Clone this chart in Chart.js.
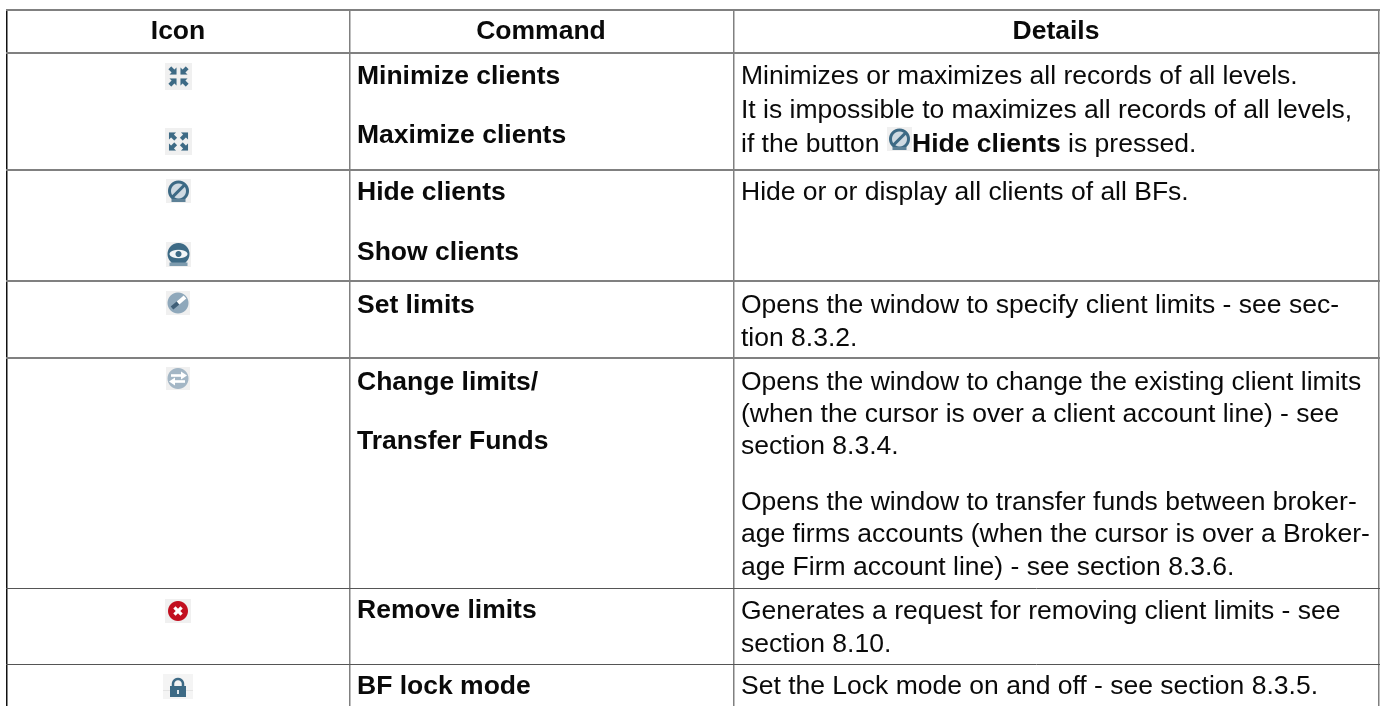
<!DOCTYPE html>
<html><head><meta charset="utf-8">
<style>html,body{margin:0;padding:0;background:#fff}canvas{display:block}</style>
<script src="https://cdn.jsdelivr.net/npm/chart.js@4"></script></head>
<body><canvas id="c" width="1386" height="706"></canvas>
<script>
const columnRules=[6.5,349.5,733.5,1379];
const rowRules=[10,53,170,281,358,588,664];
const darkRows=[588,664];
const headers=["Icon","Command","Details"];
const headerX=[178,541,1056];
const commandNames=["Minimize clients","Maximize clients","Hide clients","Show clients","Set limits","Change limits/","Transfer Funds","Remove limits","BF lock mode"];
const commandY=[84,143,200,260,313,390,449,618,694];
const detailLines=["Minimizes or maximizes all records of all levels.","It is impossible to maximizes all records of all levels,","Hide or or display all clients of all BFs.","Opens the window to specify client limits - see sec-","tion 8.3.2.","Opens the window to change the existing client limits","(when the cursor is over a client account line) - see","section 8.3.4.","Opens the window to transfer funds between broker-","age firms accounts (when the cursor is over a Broker-","age Firm account line) - see section 8.3.6.","Generates a request for removing client limits - see","section 8.10.","Set the Lock mode on and off - see section 8.3.5."];
const detailY=[84,118,200,313,346,390,422,454,510,542,575,619,652,694];
const iconNames=["minimize","maximize","hide","show","set","change","remove","lock","hide"];
const iconX=[178.5,178.5,178.5,178.5,178,178,178,178,899.5];
const iconY=[76.5,141.5,191,254.5,303,378.5,611,686.5,139];
const iconW=[27,27,25,25,24,24,26,30,25];
const iconH=[27,27,24,25,24,23,24,25,24];

const BLUE="#3d6a85";
function arrow(g,x,y,dx,dy){
  g.save();g.translate(x,y);g.rotate(Math.atan2(dy,dx));
  g.fillStyle=BLUE;g.beginPath();g.moveTo(5,0);g.lineTo(0,-5);g.lineTo(0,-2);g.lineTo(-4.5,-2);g.lineTo(-4.5,2);g.lineTo(0,2);g.lineTo(0,5);g.closePath();g.fill();g.restore();
}
const painters={
 minimize(g,w,h){const c=w/2,m=h/2;[[-1,-1],[1,-1],[-1,1],[1,1]].forEach(([a,b])=>arrow(g,c+a*5.5,m+b*5.5,-a,-b));},
 maximize(g,w,h){const c=w/2,m=h/2;[[-1,-1],[1,-1],[-1,1],[1,1]].forEach(([a,b])=>arrow(g,c+a*6,m+b*5.5,a,b));},
 hide(g,w,h){const c=w/2,m=h/2;g.strokeStyle=BLUE;g.lineWidth=3;g.fillStyle="#cfdae2";g.beginPath();g.arc(c,m,9,0,7);g.fill();g.stroke();g.fillStyle="#5d8197";g.fillRect(c-7,m+8,14,3);g.beginPath();g.moveTo(c-6,m+6);g.lineTo(c+6,m-6);g.stroke();},
 show(g,w,h){const c=w/2,m=h/2;g.fillStyle=BLUE;g.beginPath();g.arc(c,m-.5,11,0,7);g.fill();g.fillStyle="#7d9bae";g.fillRect(c-9,m+8,18,3.5);g.fillStyle="#f2f5f7";g.beginPath();g.ellipse(c,m-.5,9,4.2,0,0,7);g.fill();g.fillStyle=BLUE;g.beginPath();g.arc(c,m-.5,3,0,7);g.fill();},
 set(g,w,h){const c=w/2,m=h/2;g.fillStyle="#8fa8bb";g.beginPath();g.arc(c,m,10.5,0,7);g.fill();g.strokeStyle="#fff";g.lineWidth=4;g.beginPath();g.moveTo(c,m);g.lineTo(c+7,m-6);g.stroke();g.strokeStyle="#3f5f78";g.beginPath();g.moveTo(c-6,m+5);g.lineTo(c,m);g.stroke();},
 change(g,w,h){const c=w/2,m=h/2;g.fillStyle="#a3b6c5";g.beginPath();g.arc(c,m,10.5,0,7);g.fill();g.strokeStyle="#fff";g.lineWidth=2.6;g.beginPath();g.moveTo(c-7,m-3);g.lineTo(c+7,m-3);g.moveTo(c+7,m+3);g.lineTo(c-7,m+3);g.stroke();g.fillStyle="#fff";g.beginPath();g.moveTo(c+3,m-7);g.lineTo(c+9,m-3);g.lineTo(c+3,m+1);g.fill();g.beginPath();g.moveTo(c-3,m-1);g.lineTo(c-9,m+3);g.lineTo(c-3,m+7);g.fill();},
 remove(g,w,h){const c=w/2,m=h/2;g.fillStyle="#c20f1f";g.beginPath();g.arc(c,m,10,0,7);g.fill();g.strokeStyle="#fff";g.lineWidth=3.2;g.beginPath();g.moveTo(c-3.6,m-3.6);g.lineTo(c+3.6,m+3.6);g.moveTo(c+3.6,m-3.6);g.lineTo(c-3.6,m+3.6);g.stroke();},
 lock(g,w,h){const c=w/2;g.fillStyle="#f4f4f4";g.fillRect(0,0,w,h);g.fillStyle="#e4e4e4";g.fillRect(0,16,w,1);g.strokeStyle=BLUE;g.lineWidth=2.5;g.beginPath();g.arc(c,10,5,Math.PI,0);g.lineTo(c+5,13);g.moveTo(c-5,10);g.lineTo(c-5,13);g.stroke();g.fillStyle=BLUE;g.fillRect(c-8,12,16,11);g.fillStyle="#dfe7ec";g.fillRect(c-1,16,2,4);}
};
function makeIcon(name,w,h){
  const S=4,big=document.createElement("canvas");big.width=w*S;big.height=h*S;
  const g=big.getContext("2d");g.fillStyle="#f0f0f0";g.fillRect(0,0,big.width,big.height);g.scale(S,S);painters[name](g,w,h);
  const out=document.createElement("canvas");out.width=w;out.height=h;const o=out.getContext("2d");o.imageSmoothingQuality="high";o.drawImage(big,0,0,w,h);return out;
}
const iconPoints=iconNames.map((n,i)=>({x:iconX[i],y:iconY[i]}));
const iconStyles=iconNames.map((n,i)=>makeIcon(n,iconW[i],iconH[i]));

const FONT='"Liberation Sans", Arial, sans-serif',SIZE=26.5,INK="#0a0a0a";
const DETAIL_X=741,COMMAND_X=357;
const tablePlugin={id:"tableText",afterDatasetsDraw(ch){
  const {ctx,scales:{x,y}}=ch;ctx.save();ctx.fillStyle=INK;ctx.textBaseline="alphabetic";
  ctx.font=`bold ${SIZE}px ${FONT}`;ctx.textAlign="center";
  headers.forEach((t,i)=>ctx.fillText(t,x.getPixelForValue(headerX[i]),y.getPixelForValue(39)));
  ctx.textAlign="left";
  commandNames.forEach((t,i)=>ctx.fillText(t,x.getPixelForValue(COMMAND_X),y.getPixelForValue(commandY[i])));
  ctx.font=`${SIZE}px ${FONT}`;
  detailLines.forEach((t,i)=>ctx.fillText(t,x.getPixelForValue(DETAIL_X),y.getPixelForValue(detailY[i])));
  const by=y.getPixelForValue(152);
  ctx.fillText("if the button",x.getPixelForValue(DETAIL_X),by);
  ctx.font=`bold ${SIZE}px ${FONT}`;ctx.fillText("Hide clients",x.getPixelForValue(912),by);
  const bw=ctx.measureText("Hide clients").width;
  ctx.font=`${SIZE}px ${FONT}`;ctx.fillText(" is pressed.",x.getPixelForValue(912)+bw,by);
  ctx.restore();
}};
new Chart(document.getElementById("c"),{
  type:"scatter",
  data:{datasets:[{data:iconPoints,pointStyle:iconStyles,pointRadius:12,pointHoverRadius:12,showLine:false,clip:false}]},
  options:{responsive:false,animation:false,events:[],
    layout:{autoPadding:false,padding:{left:6,right:6,top:10,bottom:0}},
    plugins:{legend:{display:false},tooltip:{enabled:false},title:{display:false}},
    scales:{
      x:{type:"linear",min:6,max:1380,border:{display:false},ticks:{display:false},
        afterBuildTicks(s){s.ticks=columnRules.map(v=>({value:v}));},
        grid:{drawTicks:false,color:c=>c.tick.value===columnRules[0]?"#111111":"#808080",lineWidth:1.5}},
      y:{type:"linear",reverse:true,min:10,max:706,border:{display:false},ticks:{display:false},
        afterBuildTicks(s){s.ticks=rowRules.map(v=>({value:v}));},
        grid:{drawTicks:false,color:c=>darkRows.includes(c.tick.value)?"#555555":"#808080",lineWidth:c=>darkRows.includes(c.tick.value)?1:2}}
    }},
  plugins:[tablePlugin]
});
</script></body></html>
